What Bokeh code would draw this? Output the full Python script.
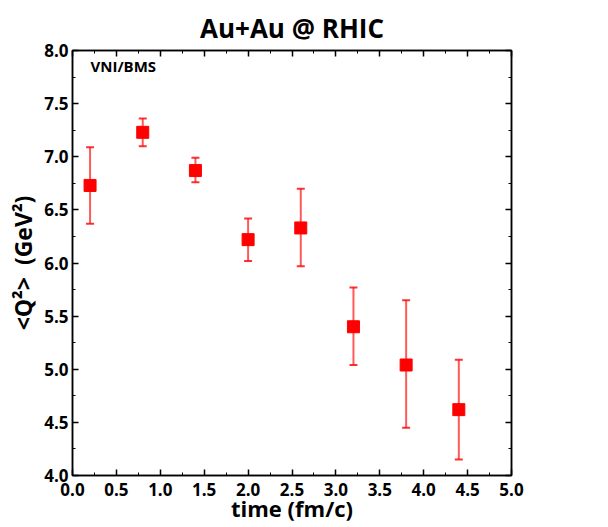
from bokeh.plotting import figure
from bokeh.models import (ColumnDataSource, Whisker, LinearAxis, Label, NumeralTickFormatter,
                          SingleIntervalTicker, Range1d, CustomJSTickFormatter)
from bokeh.embed import file_html
from bokeh.resources import INLINE

time = [0.2, 0.8, 1.4, 2.0, 2.6, 3.2, 3.8, 4.4]
q2 = [6.73, 7.23, 6.87, 6.22, 6.33, 5.40, 5.04, 4.62]
q2_upper = [7.09, 7.36, 6.99, 6.42, 6.70, 5.77, 5.65, 5.09]
q2_lower = [6.37, 7.10, 6.76, 6.02, 5.97, 5.04, 4.45, 4.15]

FONT = "Open Sans"

src = ColumnDataSource(dict(x=time, y=q2, upper=q2_upper, lower=q2_lower))

p = figure(width=608, height=527, output_backend="svg", toolbar_location=None,
           x_range=Range1d(0, 5), y_range=Range1d(4, 8),
           min_border_left=72, min_border_top=50, min_border_right=97, min_border_bottom=52,
           title="Au+Au @ RHIC")
p.title.text_font = FONT
p.title.text_font_size = "26px"
p.title.text_font_style = "bold"
p.title.align = "center"
p.title.text_color = "black"

p.xgrid.visible = False
p.ygrid.visible = False
p.outline_line_color = "black"
p.outline_line_width = 1.5

w = Whisker(base="x", upper="upper", lower="lower", source=src,
            line_color="red", line_alpha=0.65, line_width=2)
for h in (w.upper_head, w.lower_head):
    h.line_color = "red"
    h.line_width = 2
    h.line_alpha = 0.8
    h.size = 8
p.add_layout(w)

p.scatter("x", "y", source=src, marker="square", size=12, fill_color="red", line_color="red")

def style_axis(ax):
    ax.major_tick_in = 6
    ax.major_tick_out = 0
    ax.minor_tick_in = 3
    ax.minor_tick_out = 0
    ax.axis_line_width = 1.5
    ax.major_tick_line_width = 1.5
    ax.minor_tick_line_width = 1
    ax.major_label_text_font = FONT
    ax.major_label_text_font_size = "17px"
    ax.major_label_text_font_style = "bold"
    ax.major_label_text_color = "black"
    ax.axis_label_text_font = FONT
    ax.axis_label_text_font_size = "22px"
    ax.axis_label_text_font_style = "bold"
    ax.axis_label_text_color = "black"

p.xaxis.ticker = SingleIntervalTicker(interval=0.5, num_minor_ticks=2)
p.yaxis.ticker = SingleIntervalTicker(interval=0.5, num_minor_ticks=2)
p.xaxis.formatter = NumeralTickFormatter(format="0.0")
p.yaxis.formatter = NumeralTickFormatter(format="0.0")
p.xaxis.axis_label = "time (fm/c)"
p.yaxis.axis_label = "<Q²>\u00a0\u00a0(GeV²)"
p.xaxis.axis_label_standoff = -6
p.yaxis.axis_label_standoff = 2
p.xaxis.major_label_standoff = 7
p.yaxis.major_label_standoff = 4
style_axis(p.xaxis[0])
style_axis(p.yaxis[0])
p.yaxis.axis_label_text_font_size = "23px"

for loc in ("right", "above"):
    ax = LinearAxis(ticker=SingleIntervalTicker(interval=0.5, num_minor_ticks=2),
                    formatter=CustomJSTickFormatter(code="return ''"))
    style_axis(ax)
    ax.major_label_standoff = 0
    p.add_layout(ax, loc)

lab = Label(x=18, y=400, x_units="screen", y_units="screen", text="VNI/BMS",
            text_font=FONT, text_font_size="15px", text_font_style="bold", text_color="black")
p.add_layout(lab)

open("out.html", "w").write(file_html(p, INLINE))
